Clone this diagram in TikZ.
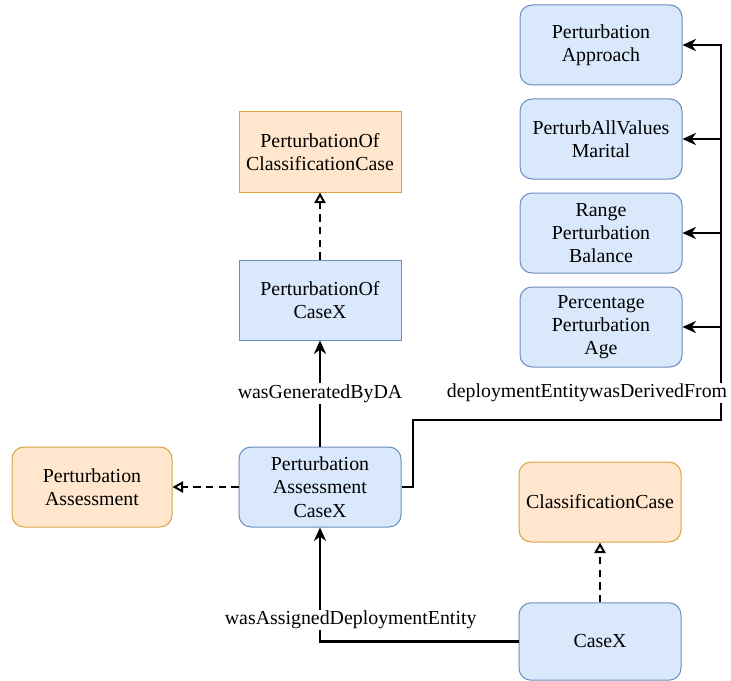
\documentclass[tikz,border=0pt]{standalone}
\usepackage{fontspec}
\setmainfont{Liberation Serif}
\usetikzlibrary{arrows.meta}
\definecolor{bfill}{HTML}{DAE8FC}
\definecolor{bline}{HTML}{6C8EBF}
\definecolor{ofill}{HTML}{FFE6CC}
\definecolor{oline}{HTML}{D9A441}
\begin{document}
\begin{tikzpicture}[x=0.75pt,y=-0.75pt,
  box/.style={draw, line width=0.75pt, minimum width=121.5pt, minimum height=60pt,
    align=center, inner sep=0pt, font=\fontsize{14.9}{17.5}\selectfont},
  bbox/.style={box, fill=bfill, draw=bline},
  obox/.style={box, fill=ofill, draw=oline},
  rnd/.style={rounded corners=9pt},
  link/.style={line width=1.8pt, line cap=butt},
  solidhead/.style={link, -{Stealth[length=10pt,width=9pt,inset=3pt]}},
  openhead/.style={link, dash pattern=on 5.5pt off 4pt,
    -{Triangle[open,length=8pt,width=8.5pt,fill=white,line width=1.5pt]}},
  lab/.style={fill=white, inner sep=1pt, font=\fontsize{14.9}{17.5}\selectfont}
]
\useasboundingbox (0,0) rectangle (731,681);

% classes
\node[obox] (poc) at (320,152) {PerturbationOf\\ClassificationCase};
\node[bbox] (pocx) at (320,300) {PerturbationOf\\CaseX};
\node[bbox, rnd] (pac) at (320,487) {Perturbation\\Assessment\\CaseX};
\node[obox, rnd, minimum width=120pt] (pa) at (92,487) {Perturbation\\Assessment};
\node[obox, rnd] (cc) at (600,502) {ClassificationCase};
\node[bbox, rnd, minimum height=58pt] (cx) at (600,641.5) {CaseX};

% perturbation entities
\node[bbox, rnd] (b1) at (601,45) {Perturbation\\Approach};
\node[bbox, rnd] (b2) at (601,139) {PerturbAllValues\\Marital};
\node[bbox, rnd] (b3) at (601,233) {Range\\Perturbation\\Balance};
\node[bbox, rnd] (b4) at (601,327) {Percentage\\Perturbation\\Age};

% subclass links
\draw[openhead] (pocx) -- (poc);
\draw[openhead] (pac) -- (pa);
\draw[openhead] (cx) -- (cc);

% properties
\draw[solidhead] (pac) -- (pocx) node[midway, lab] {wasGeneratedByDA};
\draw[solidhead] (cx.west) -| (pac.south)
  node[pos=0.594, lab, xshift=23pt] {wasAssignedDeploymentEntity};

\coordinate (k1) at (413,420);
\coordinate (k2) at (721,420);
\draw[solidhead] (pac.east) -| (k1) -- (k2) -- (b1.east -| k2) -- (b1.east);
\foreach \i in {2,3,4}
  \draw[solidhead] (b\i.east -| k2) -- (b\i.east);
\node[lab] (dlab) at (587,393) {deploymentEntitywasDerivedFrom};
\end{tikzpicture}
\end{document}
